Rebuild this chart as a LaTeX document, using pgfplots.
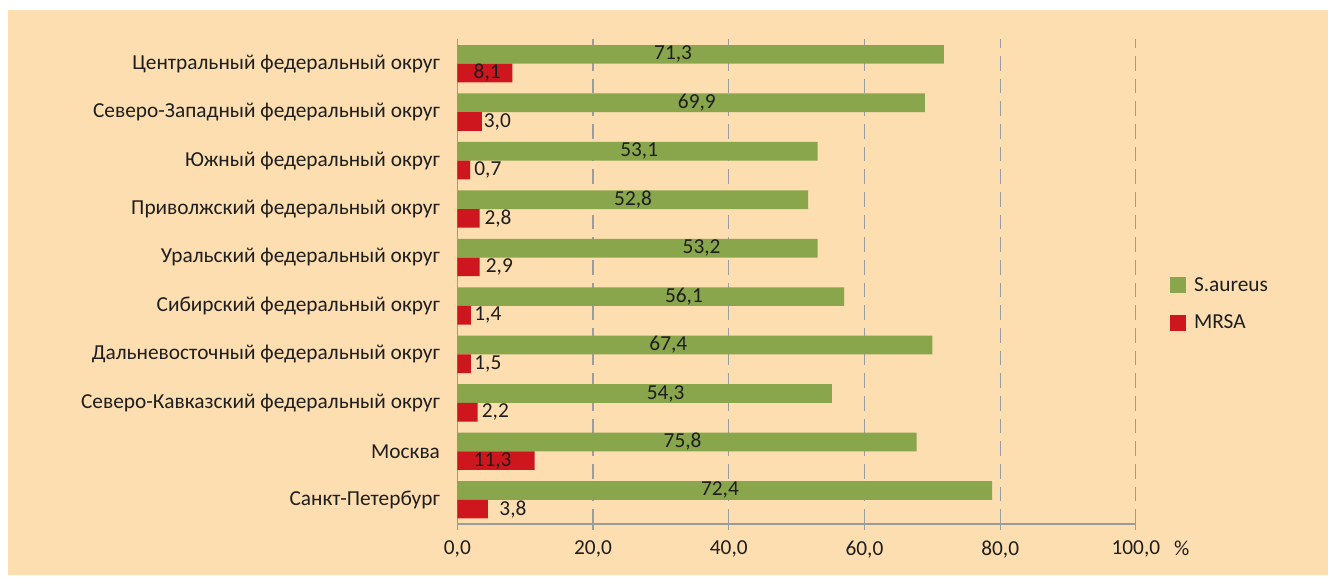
\documentclass[border=0pt]{standalone}
\usepackage{fontspec}
\setmainfont{Carlito}
\usepackage{pgfplots}
\pgfplotsset{compat=1.18}
\usepackage{pgfplotstable}
\definecolor{bg}{HTML}{FDDEB0}
\definecolor{sgreen}{HTML}{8AA64C}
\definecolor{mred}{HTML}{CE161E}
\definecolor{txt}{HTML}{1E1E1E}
\definecolor{gridc}{HTML}{9C9C9C}
\newcommand\fs{\fontsize{16}{19}\selectfont}

\pgfplotstableread{
y sa mr
0 78.8 4.5
1 67.7 11.4
2 55.2 3.0
3 70.0 2.0
4 57.0 2.0
5 53.1 3.3
6 51.7 3.3
7 53.1 1.9
8 68.9 3.6
9 71.7 8.1
}\bars

\pgfplotstableread{
x y lab
38.7 0.193 72,4
33.2 1.193 75,8
30.7 2.193 54,3
31.1 3.193 67,4
33.4 4.193 56,1
36.0 5.193 53,2
25.9 6.193 52,8
26.8 7.193 53,1
35.3 8.193 69,9
31.8 9.193 71,3
}\glab

\pgfplotstableread{
x y lab
8.2 -0.193 3,8
5.2 0.807 11,3
5.6 1.807 2,2
4.5 2.807 1,5
4.5 3.807 1,4
6.2 4.807 2,9
6.0 5.807 2,8
4.5 6.807 0,7
5.9 7.807 3,0
4.4 8.807 8,1
}\rlab

\begin{document}
\begin{tikzpicture}[font=\fs]
\useasboundingbox (0,0) rectangle (996pt,432pt);
\fill[white] (0,0) rectangle (996pt,432pt);
\fill[bg] (6pt,0.75pt) rectangle (996pt,424.5pt);
\begin{axis}[
  at={(343pt,39pt)}, anchor=south west,
  scale only axis, width=508.9pt, height=363.4pt,
  xmin=0, xmax=100, ymin=-0.5, ymax=9.5,
  axis x line*=bottom, axis y line*=left,
  axis line style={gridc, line width=0.9pt, -},
  xtick={0,20,...,100},
  xticklabels={{0,0},{20,0},{40,0},{60,0},{80,0},{100,0}},
  ytick={0,...,9},
  yticklabels={Санкт-Петербург, Москва, Северо-Кавказский федеральный округ, Дальневосточный федеральный округ, Сибирский федеральный округ, Уральский федеральный округ, Приволжский федеральный округ, Южный федеральный округ, Северо-Западный федеральный округ, Центральный федеральный округ},
  x tick style={gridc, line width=0.9pt},
  y tick style={draw=none},
  tick align=outside, major tick length=4.5pt,
  xmajorgrids,
  major grid style={gridc, line width=0.9pt, dash pattern=on 11pt off 6pt},
  tick label style={font=\fs, text=txt},
  yticklabel style={xshift=-5pt},
  xticklabel style={yshift=-4.5pt},
  legend style={at={(axis description cs:1.05,0.454)}, anchor=west, draw=none, fill=none, font=\fs, text=txt, row sep=12pt, inner sep=0pt},
  legend cell align=left,
  clip=false,
]
\addplot[xbar, bar width=14pt, bar shift=7pt, fill=sgreen, draw=none,
  legend image code/.code={\fill[sgreen] (0pt,-6pt) rectangle (12pt,6pt); \path (16pt,0pt);}]
  table[x=sa, y=y] {\bars};
\addlegendentry{S.aureus}
\addplot[xbar, bar width=14pt, bar shift=-7pt, fill=mred, draw=none,
  legend image code/.code={\fill[mred] (0pt,-6pt) rectangle (12pt,6pt); \path (16pt,0pt);}]
  table[x=mr, y=y] {\bars};
\addlegendentry{MRSA}
\addplot[forget plot, draw=none, mark=none, nodes near coords, point meta=explicit symbolic,
  every node near coord/.append style={anchor=center, font=\fs, text=txt}]
  table[x=x, y=y, meta=lab] {\glab};
\addplot[forget plot, draw=none, mark=none, nodes near coords, point meta=explicit symbolic,
  every node near coord/.append style={anchor=center, font=\fs, text=txt}]
  table[x=x, y=y, meta=lab] {\rlab};
\end{axis}
\node[text=txt, font=\fs] at (886.3pt,21pt) {\%};
\end{tikzpicture}
\end{document}
